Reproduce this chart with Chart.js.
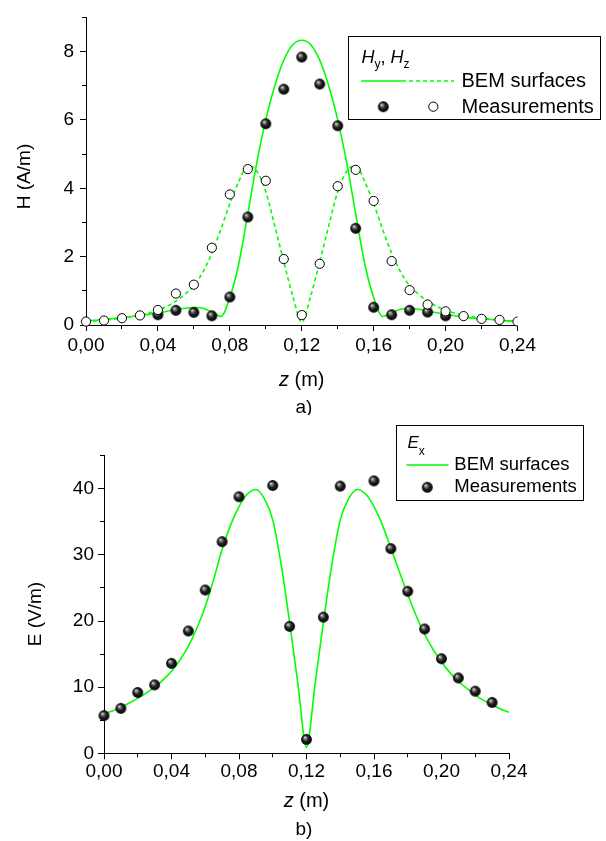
<!DOCTYPE html>
<html>
<head>
<meta charset="utf-8">
<script src="https://cdn.jsdelivr.net/npm/chart.js@4"></script>
<style>
  html, body { margin: 0; padding: 0; background: #fff; }
  #wrap { position: relative; width: 606px; height: 841px; }
  canvas { position: absolute; left: 0; }
  #chart-h { top: 0; }
  #chart-e { top: 415px; }
</style>
</head>
<body>
<div id="wrap">
  <canvas id="chart-h" width="606" height="415"></canvas>
  <canvas id="chart-e" width="606" height="426"></canvas>
</div>

<script>
  // BEM curve sample positions (m)
  const zCurve = [0.000, 0.005, 0.010, 0.015, 0.020, 0.025, 0.030, 0.035, 0.040, 0.045, 0.050, 0.055, 0.060,
    0.065, 0.070, 0.075, 0.080, 0.085, 0.090, 0.095, 0.100, 0.105, 0.110, 0.115, 0.120, 0.125, 0.130, 0.135,
    0.140, 0.145, 0.150, 0.155, 0.160, 0.165, 0.170, 0.175, 0.180, 0.185, 0.190, 0.195, 0.200, 0.205, 0.210,
    0.215, 0.220, 0.225, 0.230, 0.235, 0.240];

  // a) H field, BEM surfaces
  const hyCurve = [0.12, 0.14, 0.16, 0.19, 0.22, 0.25, 0.28, 0.31, 0.35, 0.40, 0.45, 0.49, 0.51,
    0.49, 0.38, 0.25, 0.80, 1.80, 3.25, 4.75, 6.00, 7.00, 7.75, 8.20, 8.33, 8.20, 7.75, 7.00,
    6.00, 4.75, 3.25, 1.80, 0.80, 0.25, 0.36, 0.46, 0.49, 0.46, 0.41, 0.36, 0.31, 0.27, 0.23,
    0.20, 0.18, 0.16, 0.14, 0.12, 0.11];
  const hzCurve = [0.10, 0.12, 0.14, 0.17, 0.20, 0.24, 0.29, 0.35, 0.43, 0.55, 0.70, 0.90, 1.15,
    1.55, 2.10, 2.80, 3.55, 4.20, 4.66, 4.50, 3.90, 2.90, 1.85, 0.85, 0.08, 0.85, 1.85, 2.90,
    3.90, 4.50, 4.66, 4.20, 3.55, 2.80, 2.10, 1.55, 1.15, 0.90, 0.70, 0.55, 0.43, 0.35, 0.29,
    0.24, 0.20, 0.17, 0.14, 0.12, 0.10];

  // a) H field, measurements
  const zHyMeas = [0.04, 0.05, 0.06, 0.07, 0.08, 0.09, 0.10, 0.11, 0.12, 0.13, 0.14, 0.15, 0.16, 0.17, 0.18, 0.19, 0.20];
  const hyMeas = [0.30, 0.43, 0.37, 0.27, 0.82, 3.16, 5.89, 6.90, 7.84, 7.05, 5.83, 2.83, 0.52, 0.30, 0.43, 0.38, 0.27];
  const zHzMeas = [0.00, 0.01, 0.02, 0.03, 0.04, 0.05, 0.06, 0.07, 0.08, 0.09, 0.10, 0.11, 0.12,
    0.13, 0.14, 0.15, 0.16, 0.17, 0.18, 0.19, 0.20, 0.21, 0.22, 0.23, 0.24];
  const hzMeas = [0.10, 0.13, 0.20, 0.28, 0.44, 0.92, 1.18, 2.26, 3.82, 4.56, 4.22, 1.93, 0.29,
    1.79, 4.06, 4.54, 3.63, 1.87, 1.02, 0.60, 0.40, 0.26, 0.18, 0.15, 0.10];

  // b) E field
  const exCurve = [6.0, 6.4, 7.0, 7.6, 8.3, 9.1, 10.0, 11.1, 12.4, 14.1, 16.2, 18.9, 22.2,
    26.3, 30.8, 34.5, 37.3, 39.2, 39.9, 38.5, 35.3, 28.5, 19.8, 10.3, 0.9, 10.3, 19.8, 28.5,
    35.3, 38.5, 39.9, 39.2, 37.3, 34.5, 31.0, 27.5, 24.0, 20.8, 18.0, 15.7, 13.8, 12.2, 10.9,
    9.8, 8.8, 8.0, 7.3, 6.7, 6.2];
  const zExMeas = [0.00, 0.01, 0.02, 0.03, 0.04, 0.05, 0.06, 0.07, 0.08, 0.10, 0.11,
    0.12, 0.13, 0.14, 0.16, 0.17, 0.18, 0.19, 0.20, 0.21, 0.22, 0.23];
  const exMeas = [5.7, 6.8, 9.2, 10.35, 13.6, 18.5, 24.7, 32.0, 38.8, 40.5, 19.2,
    2.1, 20.6, 40.4, 41.2, 30.95, 24.5, 18.8, 14.3, 11.4, 9.4, 7.7];

  const FONT = 'Arial, "Liberation Sans", sans-serif';
  const GREEN = '#00ff00';

  const pts = (xs, ys) => xs.map((x, i) => ({ x: x, y: ys[i] }));

  function makeBall(r) {
    const c = document.createElement('canvas');
    const s = Math.ceil(r * 2) + 2;
    c.width = s; c.height = s;
    const g = c.getContext('2d');
    const cx = s / 2, cy = s / 2;
    const grad = g.createRadialGradient(cx - r * 0.35, cy - r * 0.4, 0, cx, cy, r);
    grad.addColorStop(0, '#f2f2f2');
    grad.addColorStop(0.22, '#8c8c8c');
    grad.addColorStop(0.55, '#222');
    grad.addColorStop(1, '#000');
    g.fillStyle = grad;
    g.beginPath(); g.arc(cx, cy, r, 0, Math.PI * 2); g.fill();
    return c;
  }
  const ball = makeBall(5.4);

  const xMajor = v => Math.round(v * 100) % 4 === 0;
  const fmtX = v => xMajor(v) ? v.toFixed(2).replace('.', ',') : '';

  function xAxis(height, pad) {
    return {
      type: 'linear', min: 0, max: 0.24,
      afterFit: s => { s.height = height; },
      border: { color: '#000', width: 1 },
      grid: {
        drawOnChartArea: false, tickLength: 6, tickWidth: 1,
        tickColor: c => (c.tick && xMajor(c.tick.value)) ? '#000' : 'rgba(0,0,0,0)'
      },
      ticks: {
        stepSize: 0.02, autoSkip: false, maxRotation: 0, padding: pad, color: '#000',
        font: { family: FONT, size: 19 }, callback: v => fmtX(v)
      }
    };
  }

  function yAxis(width, max, step, major, pad) {
    return {
      min: 0, max: max,
      afterFit: s => { s.width = width; },
      border: { color: '#000', width: 1 },
      grid: {
        drawOnChartArea: false, tickLength: 6, tickWidth: 1,
        tickColor: c => (c.tick && c.tick.value % major === 0) ? '#000' : 'rgba(0,0,0,0)'
      },
      ticks: {
        stepSize: step, autoSkip: false, padding: pad, color: '#000',
        font: { family: FONT, size: 19 }, callback: v => (v % major === 0 ? String(v) : '')
      }
    };
  }

  const align = p => Math.round(p - 0.5) + 0.5;

  // shorter minor ticks, axis titles, captions and legend box
  function decor(cfg) {
    return {
      id: 'decor',
      afterDraw(chart) {
        const { ctx, chartArea } = chart;
        const xs = chart.scales.x, ys = chart.scales.y;
        ctx.save();
        ctx.strokeStyle = '#000';
        ctx.lineWidth = 1;
        ctx.beginPath();
        xs.ticks.forEach(t => {
          if (!xMajor(t.value)) {
            const px = align(xs.getPixelForValue(t.value));
            ctx.moveTo(px, chartArea.bottom);
            ctx.lineTo(px, chartArea.bottom + 4);
          }
        });
        ys.ticks.forEach(t => {
          if (t.value % cfg.yMajor !== 0) {
            const py = align(ys.getPixelForValue(t.value));
            ctx.moveTo(chartArea.left, py);
            ctx.lineTo(chartArea.left - 4, py);
          }
        });
        ctx.stroke();

        ctx.fillStyle = '#000';
        ctx.textBaseline = 'middle';

        // y title
        ctx.save();
        ctx.translate(cfg.yTitle.x, cfg.yTitle.y);
        ctx.rotate(-Math.PI / 2);
        ctx.textAlign = 'center';
        ctx.font = '19px ' + FONT;
        ctx.fillText(cfg.yTitle.text, 0, 0);
        ctx.restore();

        // x title: italic z + (m)
        ctx.textAlign = 'left';
        ctx.font = 'italic 20px ' + FONT;
        const wz = ctx.measureText('z').width;
        ctx.font = '20px ' + FONT;
        const wm = ctx.measureText(' (m)').width;
        const cx = (chartArea.left + chartArea.right) / 2;
        let x0 = cx - (wz + wm) / 2;
        ctx.font = 'italic 20px ' + FONT;
        ctx.fillText('z', x0, cfg.xTitleY);
        ctx.font = '20px ' + FONT;
        ctx.fillText(' (m)', x0 + wz, cfg.xTitleY);

        // caption
        ctx.textAlign = 'center';
        ctx.font = '19px ' + FONT;
        ctx.fillText(cfg.caption, cfg.captionX, cfg.captionY);

        cfg.legend(ctx);
        ctx.restore();
      }
    };
  }

  function drawOpen(ctx, x, y) {
    ctx.beginPath();
    ctx.arc(x, y, 4.6, 0, Math.PI * 2);
    ctx.fillStyle = '#fff';
    ctx.fill();
    ctx.strokeStyle = '#000';
    ctx.lineWidth = 1;
    ctx.stroke();
  }

  function legendH(ctx) {
    ctx.strokeStyle = '#000';
    ctx.lineWidth = 1;
    ctx.strokeRect(348.5, 36.5, 252, 83);

    ctx.fillStyle = '#000';
    ctx.textAlign = 'left';
    ctx.textBaseline = 'alphabetic';
    let x = 361.5;
    const base = 63;
    ctx.font = 'italic 18px ' + FONT; ctx.fillText('H', x, base); x += ctx.measureText('H').width;
    ctx.font = '12px ' + FONT; ctx.fillText('y', x, base + 5); x += ctx.measureText('y').width;
    ctx.font = '18px ' + FONT; ctx.fillText(', ', x, base); x += ctx.measureText(', ').width;
    ctx.font = 'italic 18px ' + FONT; ctx.fillText('H', x, base); x += ctx.measureText('H').width;
    ctx.font = '12px ' + FONT; ctx.fillText('z', x, base + 5);

    ctx.strokeStyle = GREEN;
    ctx.lineWidth = 1.6;
    ctx.beginPath(); ctx.moveTo(361, 81); ctx.lineTo(406, 81); ctx.stroke();
    ctx.setLineDash([4, 3]);
    ctx.beginPath(); ctx.moveTo(409, 81); ctx.lineTo(454, 81); ctx.stroke();
    ctx.setLineDash([]);

    ctx.drawImage(ball, 383.3 - ball.width / 2, 106.7 - ball.height / 2);
    drawOpen(ctx, 433.3, 106.7);

    ctx.fillStyle = '#000';
    ctx.textBaseline = 'middle';
    ctx.font = '20px ' + FONT;
    ctx.fillText('BEM surfaces', 461.5, 81);
    ctx.fillText('Measurements', 461.5, 107);
  }

  function legendE(ctx) {
    ctx.strokeStyle = '#000';
    ctx.lineWidth = 1;
    ctx.strokeRect(396.5, 10.5, 187, 75);

    ctx.fillStyle = '#000';
    ctx.textAlign = 'left';
    ctx.textBaseline = 'alphabetic';
    ctx.font = 'italic 17px ' + FONT;
    ctx.fillText('E', 407.5, 32.5);
    const w = ctx.measureText('E').width;
    ctx.font = '12px ' + FONT;
    ctx.fillText('x', 407.5 + w, 39.5);

    ctx.strokeStyle = GREEN;
    ctx.lineWidth = 1.6;
    ctx.beginPath(); ctx.moveTo(406.5, 50); ctx.lineTo(448.5, 50); ctx.stroke();

    ctx.drawImage(ball, 427.3 - ball.width / 2, 72.3 - ball.height / 2);

    ctx.fillStyle = '#000';
    ctx.textBaseline = 'middle';
    ctx.font = '18.5px ' + FONT;
    ctx.fillText('BEM surfaces', 454.3, 50);
    ctx.fillText('Measurements', 454.3, 72.3);
  }

  const curveStyle = {
    borderColor: GREEN, borderWidth: 1.6, pointRadius: 0, fill: false,
    cubicInterpolationMode: 'monotone'
  };

  new Chart(document.getElementById('chart-h'), {
    type: 'line',
    data: {
      datasets: [
        {
          label: 'Hz measurements', data: pts(zHzMeas, hzMeas), showLine: false, order: 0,
          pointStyle: 'circle', pointRadius: 4.6, pointBackgroundColor: '#fff',
          pointBorderColor: '#000', pointBorderWidth: 1,
          clip: { left: 10, top: 10, right: 0, bottom: 10 }
        },
        {
          label: 'Hy measurements', data: pts(zHyMeas, hyMeas), showLine: false, order: 1,
          pointStyle: ball, pointRadius: 5.4, clip: 10
        },
        Object.assign({ label: 'Hy BEM', data: pts(zCurve, hyCurve), order: 2 }, curveStyle),
        Object.assign({ label: 'Hz BEM', data: pts(zCurve, hzCurve), order: 3, borderDash: [4, 3] }, curveStyle)
      ]
    },
    options: {
      responsive: false, animation: false, events: [],
      layout: { padding: { left: 0, right: 88.5, top: 8, bottom: 0 } },
      plugins: { legend: { display: false }, tooltip: { enabled: false } },
      scales: {
        x: xAxis(90, 3),
        y: yAxis(86, 9, 1, 2, 6)
      }
    },
    plugins: [decor({
      yMajor: 2,
      yTitle: { text: 'H (A/m)', x: 25, y: 176.5 },
      xTitleY: 380.5,
      caption: 'a)', captionX: 304, captionY: 407.5,
      legend: legendH
    })]
  });

  new Chart(document.getElementById('chart-e'), {
    type: 'line',
    data: {
      datasets: [
        {
          label: 'Ex measurements', data: pts(zExMeas, exMeas), showLine: false, order: 0,
          pointStyle: ball, pointRadius: 5.4, clip: 10
        },
        Object.assign({ label: 'Ex BEM', data: pts(zCurve, exCurve), order: 1 }, curveStyle)
      ]
    },
    options: {
      responsive: false, animation: false, events: [],
      layout: { padding: { left: 0, right: 97, top: 40.7, bottom: 0 } },
      plugins: { legend: { display: false }, tooltip: { enabled: false } },
      scales: {
        x: xAxis(87.7, 1),
        y: yAxis(104, 45, 5, 10, 4)
      }
    },
    plugins: [decor({
      yMajor: 10,
      yTitle: { text: 'E (V/m)', x: 35.7, y: 199 },
      xTitleY: 386.7,
      caption: 'b)', captionX: 304, captionY: 414.3,
      legend: legendE
    })]
  });
</script>
</body>
</html>
